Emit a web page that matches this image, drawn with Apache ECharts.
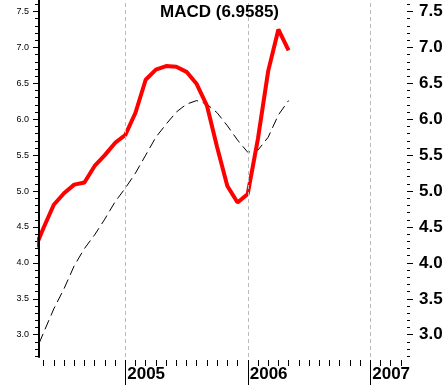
<!DOCTYPE html>
<html>
<head>
<meta charset="utf-8">
<script src="https://cdn.jsdelivr.net/npm/echarts@6/dist/echarts.min.js"></script>
<style>html,body{margin:0;padding:0;background:#fff}#c{width:445px;height:385px}</style>
</head>
<body>
<div id="c"></div>
<script>
// months counted from Jan 2005 (0 = 2005-01, 12 = 2006-01)
var months = [-9,-8,-7,-6,-5,-4,-3,-2,-1,0,1,2,3,4,5,6,7,8,9,10,11,12,13,14,15,16];
var macd   = [4.15,4.49,4.81,4.97,5.09,5.12,5.35,5.50,5.67,5.78,6.09,6.55,6.69,6.74,6.73,6.66,6.49,6.19,5.61,5.07,4.84,4.96,5.73,6.67,7.25,6.9585];
var signal = [2.69,3.03,3.36,3.64,3.96,4.20,4.39,4.61,4.85,5.04,5.25,5.50,5.75,5.93,6.10,6.21,6.26,6.21,6.09,5.91,5.71,5.54,5.57,5.75,6.06,6.26];
var yearTicks = [0,12,24];
var yearLabels = ['2005','2006','2007'];
var yTicks = [3.0,3.5,4.0,4.5,5.0,5.5,6.0,6.5,7.0,7.5];
var titleText = 'MACD (6.9585)';

var Y_MIN = 2.69, Y_MAX = 7.66, X_MIN = -8.45, X_MAX = 27.6;
var yMinor = [];
for (var i = 27; i <= 76; i++) yMinor.push(i / 10);
var xMinor = [];
for (var m = -8; m <= 27; m++) xMinor.push(m);

function pair(xs, ys){ return xs.map(function(x,i){ return [x, ys[i]]; }); }
var FONT = 'Liberation Sans';

var chart = echarts.init(document.getElementById('c'), null, {renderer:'canvas'});
var blank = {show:false};
function yAx(pos, ticks, len, labels){
  var main = (pos==='left' && labels);
  return {
    type:'value', position:pos, min:Y_MIN, max:Y_MAX, offset:0,
    axisLine: main ? {show:true, onZero:false, lineStyle:{color:'#000', width:2}}
                   : {show:false, onZero:false},
    splitLine:blank,
    axisTick:{show:true, customValues:ticks, length:len, lineStyle:{color:'#000', width:1}},
    axisLabel: labels ? (pos==='left'
      ? {show:true, customValues:ticks, margin:10, color:'#000', fontSize:9, fontFamily:FONT, formatter:function(v){return v.toFixed(1);}}
      : {show:true, customValues:ticks, margin:12, color:'#000', fontSize:17, fontWeight:'bold', fontFamily:FONT, formatter:function(v){return v.toFixed(1);}})
      : {show:false}
  };
}

chart.setOption({
  animation:false,
  backgroundColor:'#fff',
  title:{text:titleText, left:160, top:4, padding:0,
    textStyle:{fontSize:17, fontWeight:'bold', color:'#000', fontFamily:FONT}},
  grid:{left:39, right:38, top:0, bottom:28, containLabel:false, outerBoundsMode:'none'},
  xAxis:[
    {type:'value', min:X_MIN, max:X_MAX, position:'bottom', offset:3,
     axisLine:{show:false, onZero:false}, splitLine:blank,
     axisTick:{show:true, customValues:yearTicks, length:25, lineStyle:{color:'#000', width:1}},
     axisLabel:{show:true, customValues:yearTicks, margin:6, align:'left', padding:[0,0,0,2],
       color:'#000', fontSize:17, fontWeight:'bold', fontFamily:FONT,
       formatter:function(v){ return yearLabels[yearTicks.indexOf(v)] || ''; }}},
    {type:'value', min:X_MIN, max:X_MAX, position:'bottom', offset:3,
     axisLine:{show:false, onZero:false}, splitLine:blank,
     axisTick:{show:true, customValues:xMinor, length:6, lineStyle:{color:'#000', width:1}},
     axisLabel:{show:false}}
  ],
  yAxis:[
    yAx('left', yTicks, 6, true),
    yAx('left', yMinor, 4, false),
    yAx('right', yTicks, 6, true),
    yAx('right', yMinor, 3, false)
  ],
  series:[
    {type:'line', name:'signal', data:pair(months, signal), xAxisIndex:0, yAxisIndex:0,
     showSymbol:false, symbol:'none', z:2, clip:true,
     lineStyle:{color:'#000', width:1, type:[10,5]},
     markLine:{silent:true, symbol:'none', label:{show:false},
       lineStyle:{color:'#bbbbbb', width:1, type:[4,3]},
       data: yearTicks.map(function(v){ return {xAxis:v}; })}},
    {type:'line', name:'MACD', data:pair(months, macd), xAxisIndex:0, yAxisIndex:0,
     showSymbol:false, symbol:'none', z:3, clip:true,
     lineStyle:{color:'#ff0000', width:4}}
  ]
});

// left axis line: a filled bar placed through the chart's own scales
var pTop = chart.convertToPixel({gridIndex:0}, [X_MIN, Y_MAX]);
var pBot = chart.convertToPixel({gridIndex:0}, [X_MIN, Y_MIN]);
if (pTop && pBot && isFinite(pTop[0]) && isFinite(pTop[1]) && isFinite(pBot[1])) {
  var lx = Math.round(pTop[0]);
  chart.setOption({
    graphic:[{type:'rect', z:100, silent:true,
      shape:{x:lx - 1, y:Math.round(pTop[1]), width:2, height:Math.round(pBot[1] - pTop[1])},
      style:{fill:'#000'}}]
  });
}
</script>
</body>
</html>
